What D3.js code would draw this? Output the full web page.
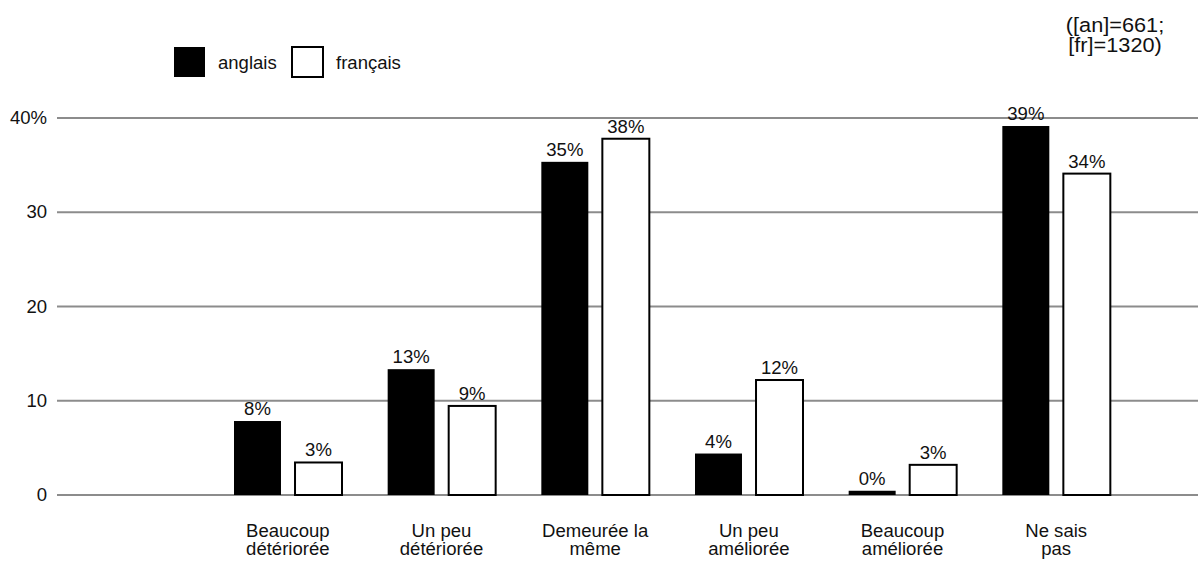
<!DOCTYPE html>
<html>
<head>
<meta charset="utf-8">
<script src="https://cdn.jsdelivr.net/npm/d3@7"></script>
<style>
  body { margin: 0; background: #fff; }
  svg text { font-family: "Liberation Sans", Arial, Helvetica, sans-serif; fill: #111; }
</style>
</head>
<body>
<svg id="chart" width="1198" height="561"></svg>
<script>
// data
const categories = [
  ['Beaucoup', 'détériorée'],
  ['Un peu', 'détériorée'],
  ['Demeurée la', 'même'],
  ['Un peu', 'améliorée'],
  ['Beaucoup', 'améliorée'],
  ['Ne sais', 'pas']
]
const series = ['anglais', 'français']
const anglais = [7.85, 13.35, 35.35, 4.4, 0.45, 39.15]
const francais = [3.45, 9.45, 37.8, 12.2, 3.2, 34.1]
const yTicks = [0, 10, 20, 30, 40]
const noteLines = ['([an]=661;', '[fr]=1320)']

const values = { 'anglais': anglais, 'français': francais }
const fills = { 'anglais': '#000', 'français': '#fff' }
const sx = 1.06 // text in the picture is a bit wider than the font

const svg = d3.select('#chart')

const x = d3.scaleBand()
    .domain(d3.range(categories.length))
    .range([211, 1133])

const x1 = d3.scaleBand()
    .domain(series)
    .range([23, 131])
    .paddingInner(0.23)

const y = d3.scaleLinear()
    .domain([0, 40])
    .range([495, 118])

function txt(g, px, py, str, size, anchor) {
    return g.append('text')
        .attr('transform', `translate(${px},${py}) scale(${sx},1)`)
        .attr('text-anchor', anchor || 'middle')
        .style('font-size', size + 'px')
        .text(str)
}

// gridlines
svg.append('g')
    .selectAll('line')
    .data(yTicks)
    .join('line')
    .attr('x1', 57)
    .attr('x2', 1198)
    .attr('y1', d => y(d))
    .attr('y2', d => y(d))
    .attr('stroke', '#8c8c8c')
    .attr('stroke-width', 2)

// y tick labels
const yl = svg.append('g')
yTicks.forEach(t => {
    txt(yl, 47, y(t), t === 40 ? '40%' : String(t), 17.5, 'end').attr('dy', '0.35em')
})

// bars
const groups = svg.append('g')
    .selectAll('g')
    .data(categories.map((c, i) => i))
    .join('g')
    .attr('transform', i => `translate(${x(i)},0)`)

groups.selectAll('rect')
    .data(i => series.map(s => ({ s: s, v: values[s][i] })))
    .join('rect')
    .attr('x', d => x1(d.s))
    .attr('width', x1.bandwidth())
    .attr('y', d => y(d.v))
    .attr('height', d => y(0) - y(d.v))
    .attr('fill', d => fills[d.s])
    .attr('stroke', '#000')
    .attr('stroke-width', d => d.s === 'français' ? 2 : 0)

// value labels
groups.each(function (i) {
    const g = d3.select(this)
    series.forEach(s => {
        const v = values[s][i]
        txt(g, x1(s) + x1.bandwidth() / 2, y(v) - 6, Math.round(v) + '%', 17.5)
    })
})

// category labels
const cl = svg.append('g')
categories.forEach((c, i) => {
    const cx = x(i) + x.bandwidth() / 2
    txt(cl, cx, 537, c[0], 17.5)
    txt(cl, cx, 555, c[1], 17.5)
})

// legend
const leg = svg.append('g')
const legX = [174, 292]
series.forEach((s, k) => {
    leg.append('rect')
        .attr('x', legX[k])
        .attr('y', 47)
        .attr('width', 31)
        .attr('height', 30)
        .attr('fill', fills[s])
        .attr('stroke', '#000')
        .attr('stroke-width', k === 1 ? 2 : 0)
    txt(leg, legX[k] + 44, 69, s, 17.5, 'start')
})

// sample sizes, top right
const note = svg.append('g')
noteLines.forEach((l, k) => {
    txt(note, 1115, 32 + k * 20, l, 20.5)
})
</script>
</body>
</html>
